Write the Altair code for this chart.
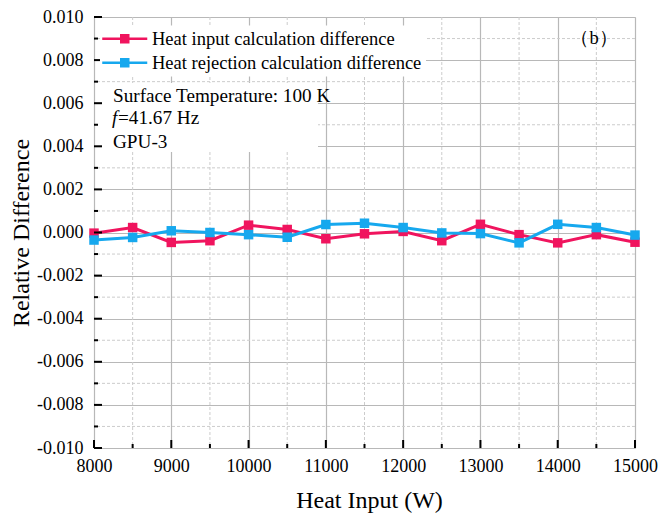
import altair as alt
import pandas as pd

# ---------------- data ----------------
heat_input = [8000, 8500, 9000, 9500, 10000, 10500, 11000, 11500, 12000,
              12500, 13000, 13500, 14000, 14500, 15000]
input_diff = [-0.00003, 0.00023, -0.00046, -0.00038, 0.00034, 0.00014, -0.00029,
              -0.00006, 0.00005, -0.00038, 0.00038, -0.00010, -0.00048, -0.00010, -0.00045]
rejection_diff = [-0.00035, -0.00023, 0.00008, 0.00000, -0.00010, -0.00022, 0.00037,
                  0.00043, 0.00023, -0.00002, -0.00005, -0.00048, 0.00038, 0.00023, -0.00012]
series_names = ["Heat input calculation difference", "Heat rejection calculation difference"]
series_colors = ["#F0145E", "#16A8EE"]

x_major = [8000, 9000, 10000, 11000, 12000, 13000, 14000, 15000]
x_minor = [8500, 9500, 10500, 11500, 12500, 13500, 14500]
y_major = [-0.010, -0.008, -0.006, -0.004, -0.002, 0.0, 0.002, 0.004, 0.006, 0.008, 0.010]
y_minor = [-0.009, -0.007, -0.005, -0.003, -0.001, 0.001, 0.003, 0.005, 0.007, 0.009]

annotation_lines = ["Surface Temperature: 100 K", "=41.67 Hz", "GPU-3"]
italic_symbol = "f"
panel_label = "（b）"

x_title = "Heat Input (W)"
y_title = "Relative Difference"

# ---------------- layout ----------------
W, H = 541, 431
FONT = "Liberation Serif"
X_MIN, Y_MIN = 8000, -0.01

rows = []
for name, vals in zip(series_names, [input_diff, rejection_diff]):
    for xv, yv in zip(heat_input, vals):
        rows.append({"x": xv, "value": yv, "series": name})
df = pd.DataFrame(rows)

xscale = alt.Scale(domain=[8000, 15000], nice=False, zero=False)
yscale = alt.Scale(domain=[-0.01, 0.01], nice=False, zero=False)

x_axis = alt.Axis(values=x_major, format="d", ticks=False, domain=False, grid=True,
                  gridColor="#b8b8b8", gridWidth=1.2, labelFont=FONT, labelFontSize=18,
                  labelColor="black", labelPadding=9, labelFlush=False,
                  title=x_title, titleFont=FONT, titleFontSize=24, titleFontWeight="normal",
                  titleColor="black", titleX=275, titleY=59, titleBaseline="alphabetic",
                  titleAlign="center")
y_axis = alt.Axis(values=y_major,
                  labelExpr="(datum.value < -0.0000001 ? '-' : '') + format(abs(datum.value), '.3f')",
                  ticks=False, domain=False, grid=True, gridColor="#b8b8b8", gridWidth=1.2,
                  labelFont=FONT, labelFontSize=18, labelColor="black", labelPadding=11,
                  labelFlush=False,
                  title=y_title, titleFont=FONT, titleFontSize=24, titleFontWeight="normal",
                  titleColor="black", titleAngle=270, titleX=-66, titleY=H / 2,
                  titleBaseline="alphabetic", titleAlign="center")


def X(field):
    return alt.X(field, type="quantitative", scale=xscale, axis=x_axis)


def Y(field):
    return alt.Y(field, type="quantitative", scale=yscale, axis=y_axis)


color_scale = alt.Scale(domain=series_names, range=series_colors)
legend = alt.Legend(
    title=None, orient="none", legendX=6, legendY=8.5, fillColor="white", padding=4,
    symbolType="M-4.5,0H4.5M-0.7,-0.7H0.7V0.7H-0.7Z", symbolSize=100,
    symbolStrokeWidth=2.5, symbolOffset=11.5, labelOffset=18,
    labelFont=FONT, labelFontSize=18.5, labelColor="black", labelLimit=0,
    rowPadding=5,
)
color_enc = alt.Color("series:N", scale=color_scale, legend=legend)

# minor dashed grid
xminor_df = pd.DataFrame({"pos": x_minor})
yminor_df = pd.DataFrame({"pos": y_minor})
grid_x = alt.Chart(xminor_df).mark_rule(color="#cccccc", strokeDash=[3, 2], strokeWidth=1).encode(x=X("pos"))
grid_y = alt.Chart(yminor_df).mark_rule(color="#cccccc", strokeDash=[3, 2], strokeWidth=1).encode(y=Y("pos"))

one = pd.DataFrame({"a": [0]})
# white background behind the annotation block
note_bg = alt.Chart(one).mark_rect(color="white").encode(
    x=alt.value(2), x2=alt.value(224), y=alt.value(66), y2=alt.value(135))

# inward ticks (anchored on the axis lines through the scales, length in pixels)
xmaj_df = pd.DataFrame({"pos": x_major})
ymaj_df = pd.DataFrame({"pos": y_major})


def xticks(d, length):
    return alt.Chart(d).mark_rule(color="black", strokeWidth=2, y2Offset=-length).encode(
        x=X("pos"), y=alt.datum(Y_MIN), y2=alt.datum(Y_MIN))


def yticks(d, length):
    return alt.Chart(d).mark_rule(color="black", strokeWidth=2, x2Offset=length).encode(
        y=Y("pos"), x=alt.datum(X_MIN), x2=alt.datum(X_MIN))


tx_major = xticks(xmaj_df, 8)
tx_minor = xticks(xminor_df, 4)
ty_major = yticks(ymaj_df, 8)
ty_minor = yticks(yminor_df, 4)

# data layers (series drawn one after another: line then its markers)
data_layers = []
for name in series_names:
    sub = df[df["series"] == name]
    line = alt.Chart(sub).mark_line(strokeWidth=3).encode(x=X("x"), y=Y("value"), color=color_enc)
    pts = alt.Chart(sub).mark_point(shape="square", filled=True, size=90, opacity=1).encode(
        x=X("x"), y=Y("value"), color=color_enc)
    data_layers += [line, pts]

# annotation text
txt_style = dict(font=FONT, fontSize=19.2, color="black", align="left", baseline="middle")
note1 = alt.Chart(one).mark_text(text=annotation_lines[0], **txt_style).encode(
    x=alt.value(19), y=alt.value(79))
note2a = alt.Chart(one).mark_text(text=italic_symbol, fontStyle="italic", **txt_style).encode(
    x=alt.value(18), y=alt.value(101))
note2b = alt.Chart(one).mark_text(text=annotation_lines[1], **txt_style).encode(
    x=alt.value(24), y=alt.value(101))
note3 = alt.Chart(one).mark_text(text=annotation_lines[2], **txt_style).encode(
    x=alt.value(19), y=alt.value(124.5))
panel = alt.Chart(one).mark_text(text=panel_label, font=FONT, fontSize=18.5, color="black",
                                 align="center", baseline="middle").encode(
    x=alt.value(500), y=alt.value(21))

chart = alt.layer(
    grid_x, grid_y, note_bg, *data_layers, tx_major, tx_minor, ty_major, ty_minor,
    note1, note2a, note2b, note3, panel
).properties(
    width=W, height=H,
    autosize=alt.AutoSizeParams(type="none"),
    padding={"left": 94, "top": 17, "right": 26, "bottom": 65},
).configure_view(
    stroke="black", strokeWidth=2
).configure_axis(
    ticks=False, labelFont=FONT, titleFont=FONT
).configure(background="white")

chart.save("out.html", embed_options={"renderer": "svg", "actions": False})
